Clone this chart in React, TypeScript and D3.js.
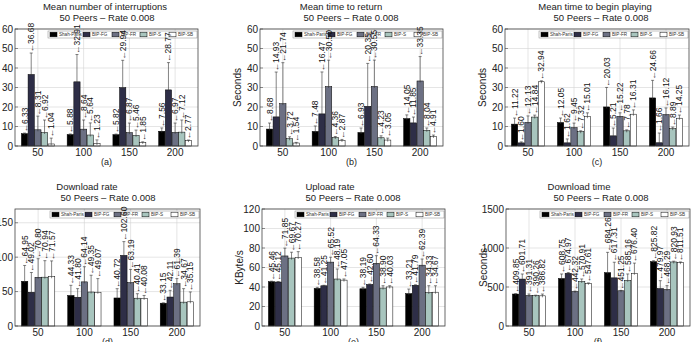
import * as d3 from "d3";

// categories and series
const groups = ["50", "100", "150", "200"];
const seriesNames = ["Shah-Paris", "BIP-FG", "BIP-FR", "BIP-S", "BIP-SB"];
const seriesColors = ["#000000", "#2e2e47", "#6c7083", "#a8c5be", "#ffffff"];

const interruptions = [
  [6.33, 36.68, 8.31, 6.92, 1.04],
  [5.88, 32.91, 8.64, 5.64, 1.23],
  [5.82, 29.94, 6.87, 5.46, 1.85],
  [7.56, 28.77, 6.97, 7.12, 2.77],
];
const interruptionsErr = [
  [0.3, 11, 7, 6.4, 3],
  [0.3, 14, 4.7, 6.2, 1.9],
  [0.3, 14, 4.9, 2.7, 0.3],
  [1.7, 14, 4.8, 6.2, 0.3],
];
const timeToReturn = [
  [8.68, 14.93, 21.74, 3.72, 1.54],
  [7.48, 16.47, 30.5, 4.36, 2.87],
  [6.93, 20.35, 30.55, 4.23, 3.05],
  [14.05, 11.85, 33.35, 8.04, 4.91],
];
const timeToReturnErr = [
  [3.1, 23, 21, 1, 0.3],
  [2.8, 21.5, 13.5, 0.5, 0.5],
  [2.3, 22, 13.5, 1, 1],
  [1.9, 3, 12.5, 1.2, 0.7],
];
const timeToPlay = [
  [11.22, 1.6, 12.13, 14.84, 32.94],
  [12.05, 1.62, 9.45, 7.32, 15.01],
  [20.03, 5.21, 15.22, 7.78, 16.31],
  [24.66, 1.66, 16.12, 8.89, 14.25],
];
const timeToPlayErr = [
  [3.1, 0.5, 3.3, 1, 0.5],
  [2.3, 2, 2.3, 0.5, 2],
  [10, 4, 1.8, 0.5, 2.2],
  [9, 5, 3.4, 0.8, 1.6],
];
const downloadRate = [
  [64.95, 49.02, 70.8, 70.94, 71.57],
  [44.33, 41.8, 64.14, 49.35, 49.07],
  [40.72, 102.6, 63.19, 40.41, 40.08],
  [33.15, 42.11, 61.39, 34.67, 35.15],
];
const downloadRateErr = [
  [23, 28.7, 27, 24, 23],
  [14.8, 12.5, 22, 24.4, 19.8],
  [13.5, 20, 19, 6.5, 4.3],
  [0.5, 9.7, 7.5, 19.6, 14.3],
];
const uploadRate = [
  [45.46, 45.12, 71.85, 69.67, 70.27],
  [38.58, 41.25, 65.52, 48.19, 47.05],
  [38.19, 42.6, 64.33, 38.9, 40.03],
  [33.21, 41.79, 62.39, 34.33, 34.67],
];
const uploadRateErr = [
  [0.5, 0.5, 8, 6, 6],
  [1.1, 0.5, 5, 10.3, 1.2],
  [1.5, 0.5, 7.8, 2.4, 1.3],
  [4.7, 0.5, 6.3, 7, 6.6],
];
const downloadTime = [
  [409.85, 601.71, 391.31, 390.26, 386.82],
  [608.75, 674.97, 442.32, 570.91, 547.61],
  [684.26, 617.31, 451.25, 585.16, 676.4],
  [825.82, 479.97, 468.29, 820.93, 811.51],
];
const downloadTimeErr = [
  [5, 65, 19, 5, 23],
  [58, 10, 5, 32, 5],
  [260, 200, 5, 82, 130],
  [11, 101, 49, 10, 10],
];

const ticks60 = [0, 10, 20, 30, 40, 50, 60];
const ticksRate = [0, 50, 100, 150];
const ticksUpload = [0, 20, 40, 60, 80, 100, 120];
const ticksTime = [0, 500, 1000, 1500];

const subtitle = "50 Peers \u2013 Rate 0.008";
const FONT = "'Liberation Sans', Arial, Helvetica, sans-serif";

const panels = [
  { values: interruptions, errors: interruptionsErr, title: "Mean number of interruptions", tag: "(a)", ylabel: "", ymax: 60, ticks: ticks60,
    left: 15, right: 198, top: 29, bottom: 146, t1: 105, t2: 107 },
  { values: timeToReturn, errors: timeToReturnErr, title: "Mean time to return", tag: "(b)", ylabel: "Seconds", ymax: 60, ticks: ticks60,
    left: 260, right: 443, top: 29, bottom: 146, t1: 341, t2: 351 },
  { values: timeToPlay, errors: timeToPlayErr, title: "Mean time to begin playing", tag: "(c)", ylabel: "Seconds", ymax: 60, ticks: ticks60,
    left: 505, right: 689, top: 29, bottom: 146, t1: 595, t2: 601 },
  { values: downloadRate, errors: downloadRateErr, title: "Download rate", tag: "(d)", ylabel: "", ymax: 170, ticks: ticksRate,
    left: 15, right: 200, top: 209, bottom: 326, t1: 87, t2: 108 },
  { values: uploadRate, errors: uploadRateErr, title: "Upload rate", tag: "(e)", ylabel: "KByte/s", ymax: 120, ticks: ticksUpload,
    left: 262, right: 445, top: 209, bottom: 326, t1: 330, t2: 353 },
  { values: downloadTime, errors: downloadTimeErr, title: "Download time", tag: "(f)", ylabel: "Seconds", ymax: 1500, ticks: ticksTime,
    left: 506, right: 690, top: 209, bottom: 326, t1: 579, t2: 601 },
];

type PanelSpec = (typeof panels)[number];

function Legend({ p }: { p: PanelSpec }) {
  const w = 149;
  const x = p.right - w - 1;
  const y = p.top + 2;
  const offsets = [2, 35, 64, 92, 121];
  return (
    <g>
      <rect x={x} y={y} width={w} height={7} fill="#fff" stroke="#888" strokeWidth={0.5} />
      {seriesNames.map((s, i) => (
        <g key={s}>
          <text x={x + offsets[i] + 9} y={y + 5.3} fontSize={4.6} fill="#333" fontFamily={FONT}>{s}</text>
          <rect x={x + offsets[i]} y={y + 1.2} width={7} height={4.6} fill={seriesColors[i]} stroke="#000" strokeWidth={0.5} />
        </g>
      ))}
    </g>
  );
}

function Panel({ p }: { p: PanelSpec }) {
  const x0 = d3.scaleBand<string>().domain(groups).range([p.left, p.right]);
  const bw = x0.bandwidth();
  const x1 = d3.scaleBand<string>().domain(seriesNames).range([bw * 0.14, bw * 0.86]).paddingInner(0.06);
  const y = d3.scaleLinear().domain([0, p.ymax]).range([p.bottom, p.top]);
  const cx = (p.left + p.right) / 2;

  const cells = groups.flatMap((g, gi) =>
    seriesNames.map((s, si) => {
      const v = p.values[gi][si];
      const bx = x0(g)! + x1(s)!;
      return { key: g + s, si, v, bx, w: x1.bandwidth(), mid: bx + x1.bandwidth() / 2, top: y(v), hi: y(v + p.errors[gi][si]) };
    })
  );

  return (
    <g fontFamily={FONT}>
      {/* grid */}
      {p.ticks.map((t) => (
        <line key={"gy" + t} x1={p.left} x2={p.right} y1={y(t)} y2={y(t)} stroke="#d4d4d4" strokeWidth={0.6} />
      ))}
      {groups.map((g) => (
        <line key={"gx" + g} x1={x0(g)! + bw / 2} x2={x0(g)! + bw / 2} y1={p.top} y2={p.bottom} stroke="#d4d4d4" strokeWidth={0.6} />
      ))}

      {/* bars and error whiskers */}
      {cells.map((c) => (
        <g key={c.key}>
          <rect x={c.bx} y={c.top} width={c.w} height={p.bottom - c.top} fill={seriesColors[c.si]} stroke="#000" strokeWidth={0.5} />
          <line x1={c.mid} x2={c.mid} y1={c.hi} y2={c.top + 1.5} stroke="#333" strokeWidth={0.6} />
          <line x1={c.mid - 1.5} x2={c.mid + 1.5} y1={c.hi} y2={c.hi} stroke="#333" strokeWidth={0.6} />
        </g>
      ))}

      <Legend p={p} />

      {/* value labels */}
      {cells.map((c) => (
        <text key={"l" + c.key} transform={`translate(${c.mid + 3},${c.hi - 0.5}) rotate(-90)`} fontSize={8.5} fill="#111">
          {"\u2190" + c.v.toFixed(2)}
        </text>
      ))}

      {/* frame */}
      <rect x={p.left} y={p.top} width={p.right - p.left} height={p.bottom - p.top} fill="none" stroke="#444" strokeWidth={0.8} />

      {/* y axis */}
      {p.ticks.map((t) => (
        <g key={"ty" + t}>
          <line x1={p.left} x2={p.left + 3} y1={y(t)} y2={y(t)} stroke="#444" strokeWidth={0.6} />
          <text x={p.left - 2} y={y(t) + 3.5} fontSize={10} textAnchor="end" fill="#222">{t}</text>
        </g>
      ))}
      {/* x axis */}
      {groups.map((g) => (
        <text key={"tx" + g} x={x0(g)! + bw / 2} y={p.bottom + 10} fontSize={10} textAnchor="middle" fill="#222">{g}</text>
      ))}
      <text x={cx} y={p.bottom + 19} fontSize={9} textAnchor="middle" fill="#222">{p.tag}</text>

      {p.ylabel && (
        <text transform={`translate(${p.left - 19},${(p.top + p.bottom) / 2}) rotate(-90)`} fontSize={10} textAnchor="middle" fill="#222">
          {p.ylabel}
        </text>
      )}

      {/* title */}
      <text x={p.t1} y={p.top - 19} fontSize={9.5} textAnchor="middle" fill="#222">{p.title}</text>
      <text x={p.t2} y={p.top - 8} fontSize={9.5} textAnchor="middle" fill="#222">{subtitle}</text>
    </g>
  );
}

export default function App() {
  return (
    <svg width={699} height={342} style={{ position: "absolute", left: 0, top: 0, background: "#fff" }}>
      {panels.map((p) => (
        <Panel key={p.tag} p={p} />
      ))}
    </svg>
  );
}
